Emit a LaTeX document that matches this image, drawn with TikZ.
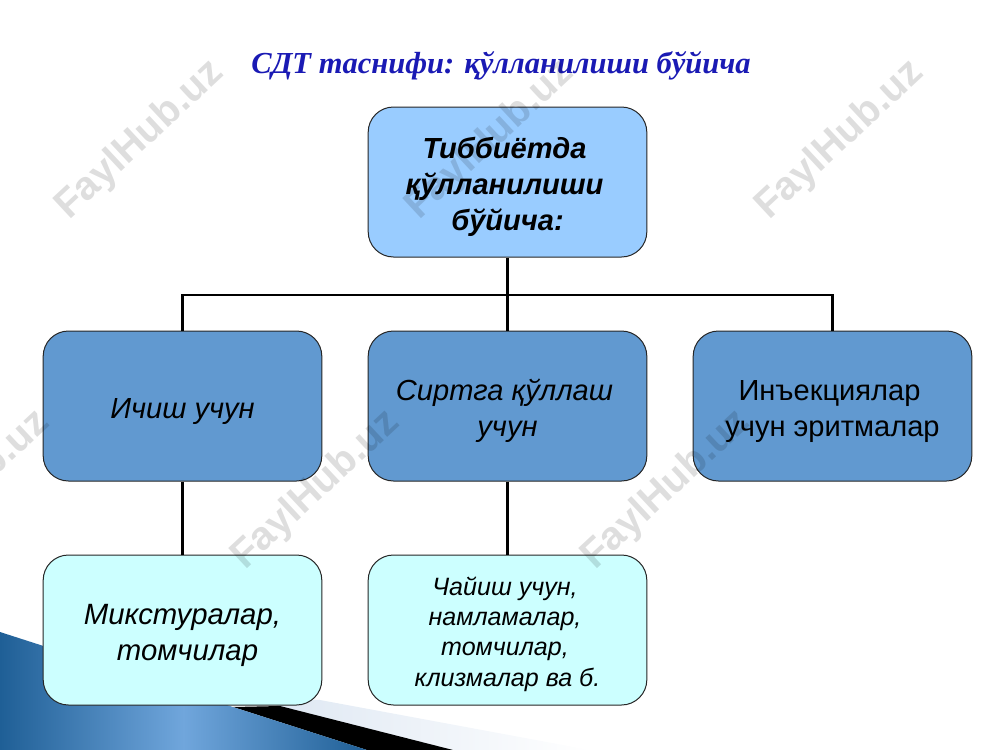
\documentclass[tikz,border=0pt]{standalone}
\usepackage{fontspec}
\setmainfont{Liberation Sans}
\newfontfamily\titlefont{Liberation Serif}
\usetikzlibrary{positioning}
\usetikzlibrary{calc}

\definecolor{rootblue}{HTML}{99CCFF}
\definecolor{midblue}{HTML}{6199D0}
\definecolor{leafcyan}{HTML}{CCFFFF}
\definecolor{titleblue}{HTML}{1A1AB4}
\definecolor{cornerdark}{HTML}{1F5F96}
\definecolor{cornerlight}{HTML}{70A6DC}
\definecolor{bandlight}{HTML}{DCE6F2}

% text lines set a little below the middle of a box
\newcommand{\lowlines}[2]{\raisebox{-#1}[\height][\depth]{\begin{tabular}{@{}c@{}}#2\end{tabular}}}

\tikzset{
	box/.style={draw=black!85, line width=0.75pt, rounded corners=19pt, minimum width=209pt, minimum height=112.5pt, align=center, inner sep=0pt},
	rootbox/.style={box, fill=rootblue, font=\fontsize{21.8}{27}\selectfont\bfseries\itshape},
	midbox/.style={box, fill=midblue, font=\fontsize{21.8}{27}\selectfont},
	leafbox/.style={box, fill=leafcyan},
	link/.style={line width=2.2pt, black},
	wmark/.style={rotate=43, font=\fontsize{30}{30}\selectfont\bfseries, text=black, text opacity=0.13}
}

\begin{document}
\begin{tikzpicture}[x=0.75pt,y=-0.75pt]
	\useasboundingbox (0,0) rectangle (1000,750);
	% Corner decoration
	\shade[left color=bandlight, right color=white] (250,696) -- (320,700) -- (590,750) -- (400,750) -- cycle;
	\fill[black] (233,707) -- (280,706) -- (453,750) -- (367,750) -- cycle;
	\shade[left color=cornerdark, right color=cornerdark, middle color=cornerlight] (0,632) -- (233,707) -- (367,750) -- (0,750) -- cycle;

	% Title
	\node[font=\titlefont\fontsize{22.9}{25}\selectfont\bfseries\itshape, text=titleblue] (title) at (501,66) {СДТ таснифи: қўлланилиши бўйича};

	% Boxes
	\node[rootbox] (root) at (507.5,182) {\lowlines{4pt}{Тиббиётда\hspace*{4.5pt}\\қўлланилиши\hspace*{4.5pt}\\бўйича:}};
	\node[midbox, font=\fontsize{21.8}{27}\selectfont\itshape] (drink) at (182.5,406) {\lowlines{4pt}{Ичиш учун}};
	\node[midbox, font=\fontsize{21.8}{27}\selectfont\itshape] (outer) at (507.5,406) {\lowlines{3.75pt}{Сиртга қўллаш\hspace*{4.5pt}\\учун}};
	\node[midbox] (inject) at (832.5,406) {\lowlines{3.75pt}{Инъекциялар\hspace*{4.5pt}\\учун эритмалар}};
	\node[leafbox, font=\fontsize{22}{27}\selectfont\itshape] (mixt) at (182.5,630) {\lowlines{4pt}{Микстуралар,\\\hspace{7.5pt}томчилар}};
	\node[leafbox, font=\fontsize{18.8}{22.7}\selectfont\itshape] (rinse) at (507.5,630) {\lowlines{3.5pt}{Чайиш учун,\hspace*{3.75pt}\\намламалар,\hspace*{3.75pt}\\томчилар,\hspace*{3.75pt}\\клизмалар ва б.}};

	% Links
	\coordinate (bus) at (507.5,295);
	\draw[link] (root.south) -- (outer.north);
	\draw[link] (drink.north) |- (bus) -| (inject.north);
	\draw[link] (drink.south) -- (mixt.north);
	\draw[link] (outer.south) -- (rinse.north);

	% Watermarks
	\foreach \name/\x/\y in {wa/140/140, wb/490/140, wc/840/140, wd/-34/490, we/316/490, wf/666/490}
	\node[wmark] (\name) at (\x,\y) {FaylHub.uz};
\end{tikzpicture}
\end{document}
